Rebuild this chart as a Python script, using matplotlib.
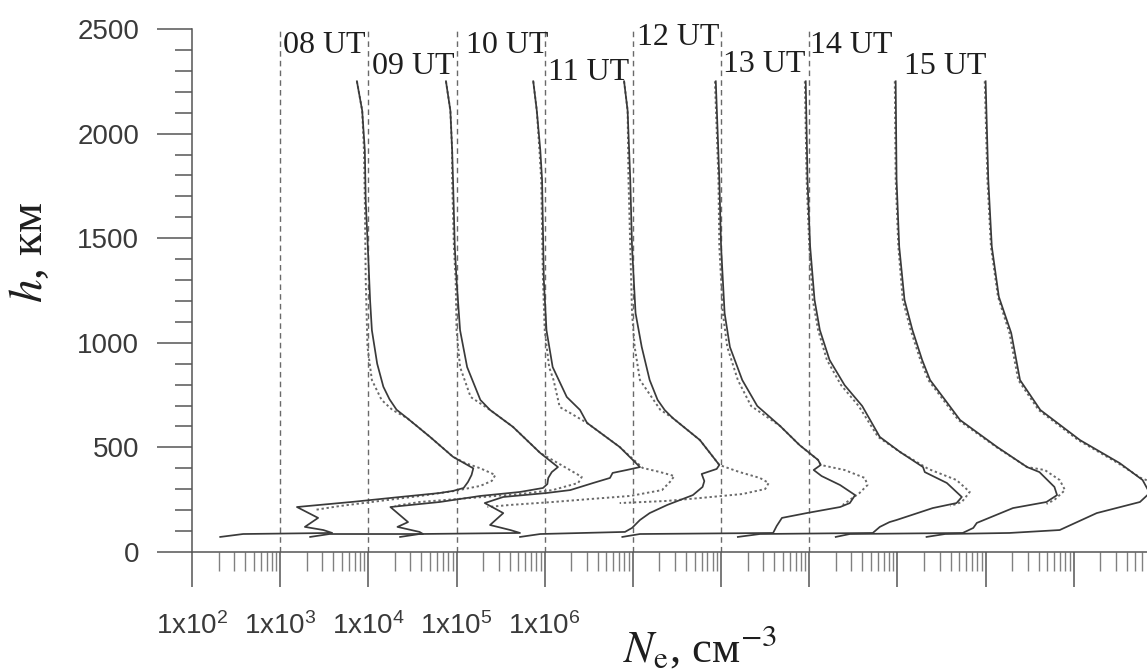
import numpy as np
import matplotlib
matplotlib.use('Agg')
import matplotlib.pyplot as plt
from matplotlib.ticker import FixedLocator, NullFormatter, MultipleLocator

# Hours (UT) of the profiles, each profile shifted one decade to the right
ut_labels = ['08 UT', '09 UT', '10 UT', '11 UT', '12 UT', '13 UT', '14 UT', '15 UT']
label_h = [2419, 2323, 2419, 2294, 2457, 2332, 2419, 2323]

# solid profiles: height (km) and log10 Ne (cm^-3), unshifted
h_s08 = [2250, 2110, 1920, 1680, 1400, 1200, 1060, 900, 790, 730, 680, 640, 550, 455, 400, 368, 335, 306, 292, 282, 263, 240, 215, 163, 120, 105, 91, 86, 72]
lg_s08 = [3.87, 3.93, 3.96, 3.97, 4.00, 4.02, 4.04, 4.10, 4.17, 4.24, 4.32, 4.44, 4.70, 4.96, 5.19, 5.17, 5.13, 5.08, 4.96, 4.81, 4.36, 3.83, 3.19, 3.43, 3.28, 3.49, 3.59, 2.58, 2.32]
h_s09 = [2250, 2110, 1920, 1780, 1460, 1300, 1060, 884, 727, 679, 598, 473, 406, 382, 354, 325, 306, 287, 268, 239, 215, 143, 120, 96, 86, 86, 72]
lg_s09 = [3.88, 3.93, 3.95, 3.96, 3.98, 4.00, 4.04, 4.12, 4.27, 4.38, 4.64, 4.95, 5.15, 5.08, 5.04, 5.03, 4.98, 4.72, 4.27, 3.81, 3.25, 3.45, 3.33, 3.58, 3.62, 2.56, 2.34]
h_s10 = [2250, 2110, 1920, 1780, 1300, 1060, 884, 741, 679, 617, 502, 406, 392, 378, 354, 330, 296, 282, 263, 234, 186, 129, 105, 91, 86, 72]
lg_s10 = [3.87, 3.91, 3.95, 3.97, 3.99, 4.02, 4.09, 4.25, 4.40, 4.48, 4.85, 5.08, 4.93, 4.77, 4.74, 4.55, 4.29, 4.02, 3.53, 3.32, 3.53, 3.38, 3.61, 3.72, 2.58, 2.36]
h_s11 = [2250, 2110, 1780, 1460, 1142, 980, 822, 727, 679, 641, 535, 416, 397, 373, 339, 311, 272, 225, 186, 153, 115, 96, 86, 72]
lg_s11 = [3.90, 3.94, 3.97, 3.99, 4.03, 4.10, 4.19, 4.28, 4.36, 4.45, 4.76, 4.98, 4.95, 4.78, 4.81, 4.79, 4.68, 4.39, 4.19, 4.08, 3.99, 3.91, 2.95, 2.72]
h_s12 = [2250, 2020, 1780, 1460, 1142, 980, 822, 698, 602, 511, 440, 416, 392, 363, 320, 272, 234, 215, 186, 163, 124, 91, 86, 72]
lg_s12 = [3.94, 3.96, 3.98, 4.00, 4.04, 4.10, 4.24, 4.41, 4.67, 4.89, 5.10, 5.13, 5.05, 5.14, 5.35, 5.52, 5.46, 5.35, 4.97, 4.69, 4.63, 4.59, 3.08, 2.88]
h_s13 = [2250, 1780, 1460, 1205, 1061, 918, 798, 698, 550, 478, 406, 382, 330, 263, 234, 210, 153, 143, 120, 91, 86, 72]
lg_s13 = [3.96, 3.98, 4.01, 4.06, 4.12, 4.23, 4.40, 4.60, 4.80, 5.03, 5.29, 5.31, 5.56, 5.73, 5.67, 5.40, 4.99, 4.91, 4.80, 4.72, 3.44, 3.19]
h_s14 = [2250, 1780, 1460, 1205, 1061, 918, 822, 727, 631, 502, 406, 382, 311, 272, 239, 210, 139, 115, 91, 86, 72]
lg_s14 = [3.98, 3.99, 4.02, 4.08, 4.17, 4.28, 4.37, 4.54, 4.71, 5.13, 5.47, 5.61, 5.78, 5.81, 5.69, 5.31, 4.90, 4.86, 4.74, 3.46, 3.30]
h_s15 = [2250, 1780, 1460, 1220, 1047, 822, 679, 535, 425, 344, 282, 239, 186, 105, 91, 86, 72]
lg_s15 = [4.00, 4.03, 4.07, 4.15, 4.29, 4.39, 4.62, 5.07, 5.52, 5.78, 5.86, 5.75, 5.26, 4.84, 4.27, 3.54, 3.33]

# dotted profiles
h_d08 = [2250, 2110, 1920, 1680, 1300, 1140, 980, 822, 727, 680, 640, 550, 455, 425, 400, 368, 340, 316, 292, 268, 244, 220, 201]
lg_d08 = [3.87, 3.93, 3.95, 3.96, 3.97, 3.98, 3.99, 4.04, 4.15, 4.27, 4.44, 4.70, 4.96, 5.10, 5.27, 5.44, 5.40, 5.27, 4.98, 4.59, 4.13, 3.68, 3.39]
h_d09 = [2250, 2110, 1920, 1780, 1460, 1300, 1060, 884, 741, 679, 598, 473, 420, 359, 330, 296, 277, 258, 239, 220]
lg_d09 = [3.88, 3.93, 3.95, 3.95, 3.97, 3.99, 4.00, 4.04, 4.16, 4.38, 4.64, 4.95, 5.17, 5.42, 5.38, 5.09, 4.72, 4.15, 3.58, 3.30]
h_d10 = [2250, 2110, 1920, 1780, 1300, 1060, 884, 822, 693, 664, 617, 502, 402, 382, 363, 335, 296, 268, 253, 239, 225, 215]
lg_d10 = [3.87, 3.91, 3.94, 3.96, 3.98, 4.00, 4.05, 4.10, 4.17, 4.29, 4.48, 4.85, 5.11, 5.31, 5.47, 5.42, 5.33, 4.97, 4.51, 4.09, 3.61, 3.35]
h_d11 = [2250, 2110, 1780, 1460, 1142, 980, 822, 680, 641, 535, 416, 382, 354, 330, 301, 277, 258, 244, 234]
lg_d11 = [3.90, 3.94, 3.95, 3.97, 3.99, 4.02, 4.08, 4.31, 4.45, 4.76, 4.98, 5.21, 5.44, 5.54, 5.50, 5.24, 4.76, 4.38, 3.85]
h_d12 = [2250, 2020, 1780, 1460, 1142, 980, 822, 698, 602, 511, 440, 416, 392, 354, 320, 282, 249, 225]
lg_d12 = [3.93, 3.95, 3.97, 3.98, 4.02, 4.07, 4.19, 4.34, 4.67, 4.89, 5.10, 5.13, 5.40, 5.63, 5.66, 5.57, 5.46, 5.38]
h_d13 = [2250, 1780, 1460, 1205, 1061, 918, 798, 698, 550, 478, 397, 344, 287, 239, 220]
lg_d13 = [3.95, 3.97, 4.00, 4.04, 4.10, 4.20, 4.36, 4.56, 4.78, 5.03, 5.35, 5.67, 5.82, 5.73, 5.60]
h_d14 = [2250, 1780, 1460, 1205, 1061, 918, 822, 727, 631, 502, 406, 392, 344, 296, 249, 230]
lg_d14 = [3.97, 3.98, 4.01, 4.06, 4.15, 4.26, 4.35, 4.52, 4.69, 5.12, 5.47, 5.67, 5.84, 5.90, 5.78, 5.69]
h_d15 = [2250, 1780, 1460, 1220, 1047, 822, 679, 535, 425, 354, 320, 272, 225]
lg_d15 = [3.99, 4.02, 4.06, 4.14, 4.27, 4.37, 4.60, 5.05, 5.50, 5.76, 5.97, 6.03, 5.86]

solid = [(h_s08, lg_s08), (h_s09, lg_s09), (h_s10, lg_s10), (h_s11, lg_s11),
         (h_s12, lg_s12), (h_s13, lg_s13), (h_s14, lg_s14), (h_s15, lg_s15)]
dotted = [(h_d08, lg_d08), (h_d09, lg_d09), (h_d10, lg_d10), (h_d11, lg_d11),
          (h_d12, lg_d12), (h_d13, lg_d13), (h_d14, lg_d14), (h_d15, lg_d15)]

xtick_labels = ['1x10$^2$', '1x10$^3$', '1x10$^4$', '1x10$^5$', '1x10$^6$']

plt.rcParams['mathtext.fontset'] = 'custom'
plt.rcParams['mathtext.rm'] = 'Liberation Sans'
plt.rcParams['mathtext.it'] = 'Liberation Sans:italic'

fig = plt.figure(figsize=(11.47, 6.70), dpi=100)
ax = fig.add_axes([192 / 1147, 118 / 670, 955 / 1147, 523 / 670])

line_col = '#3a3a3a'
dot_col = '#6a6a6a'

# dashed reference lines, one per profile
for i in range(7):
    ax.plot([10.0 ** (3 + i)] * 2, [0, 2500], color='#6a6a6a', lw=1.0,
            dashes=(4, 3), zorder=1)

for i, ((hs, ls), (hd, ld)) in enumerate(zip(solid, dotted)):
    ax.plot(10.0 ** (np.array(ld) + i), hd, color=dot_col, lw=1.4,
            linestyle=(0, (1.2, 1.4)), zorder=2)
    ax.plot(10.0 ** (np.array(ls) + i), hs, color=line_col, lw=1.25, zorder=3)

# hour labels
label_shift = [1.07, 1.09, 1.27, 1.10, 1.10, 1.06, 1.02, 1.18]
for i, txt in enumerate(ut_labels):
    ax.text(10.0 ** (3 + i) * label_shift[i], label_h[i], txt, ha='left', va='center',
            fontsize=23, family='Liberation Serif', color='#1e1e1e')

ax.set_xscale('log')
ax.set_xlim(1e2, 10 ** 12.83)
ax.set_ylim(0, 2500)

majors = [10.0 ** k for k in range(2, 13)]
minors = [m * 10.0 ** k for k in range(2, 13) for m in range(2, 10)]
ax.set_xticks(majors, xtick_labels + [''] * (len(majors) - len(xtick_labels)),
              family='Liberation Sans', fontsize=20, color='#3a3a3a')
ax.xaxis.set_minor_locator(FixedLocator(minors))
ax.xaxis.set_minor_formatter(NullFormatter())
ax.yaxis.set_major_locator(MultipleLocator(500))
ax.yaxis.set_minor_locator(MultipleLocator(100))
for lab in ax.get_yticklabels():
    lab.set_family('Liberation Sans')
    lab.set_fontsize(20)
    lab.set_color('#3a3a3a')

ax.tick_params(axis='both', which='major', direction='out', length=25, width=1.1,
               color='#555555')
ax.tick_params(axis='x', which='major', pad=18)
ax.tick_params(axis='y', which='major', pad=13)
ax.tick_params(axis='x', which='minor', direction='out', length=13.5, width=1.0,
               color='#808080')
ax.tick_params(axis='y', which='minor', direction='out', length=12, width=1.1,
               color='#555555')

for side in ['top', 'right']:
    ax.spines[side].set_visible(False)
for side in ['left', 'bottom']:
    ax.spines[side].set_color('#555555')
    ax.spines[side].set_linewidth(1.1)

fig.text(30 / 1147, 1 - 252 / 670, '$h$, км', rotation=90, ha='center', va='center',
         fontsize=34, family='Liberation Serif', math_fontfamily='stix', color='#1e1e1e')
fig.text(700 / 1147, 8 / 670, '$N_\\mathrm{e}$, см$^{-3}$', ha='center', va='baseline',
         fontsize=32, family='Liberation Serif', math_fontfamily='stix', color='#1e1e1e')

fig.savefig('out.png', dpi=100)
